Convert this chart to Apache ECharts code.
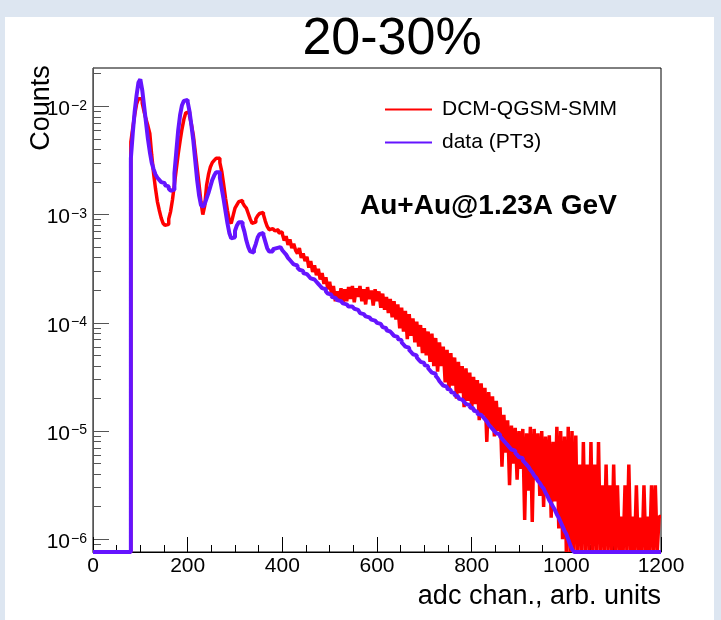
<!DOCTYPE html>
<html>
<head>
<meta charset="utf-8">
<script src="https://cdn.jsdelivr.net/npm/echarts@6/dist/echarts.min.js"></script>
<style>html,body{margin:0;padding:0;background:#fff}#c{width:721px;height:620px}</style>
</head>
<body>
<div id="c"></div>
<script>
// ---- data ----
const BIN_WIDTH = 4;                       // adc channels per histogram bin
const N_BINS = 300;
const binStarts = Array.from({length: N_BINS}, (_, i) => i * BIN_WIDTH);  // bin left edges 0..1196
const X_END = 1200;
const seriesNames = ['DCM-QGSM-SMM', 'data (PT3)'];
// log10(counts) per bin (10 bins = 40 channels per row), null = empty bin
const dcmLog10Counts = [
  /*   0 */ null,null,null,null,null,null,null,null,null,null,
  /*  40 */ null,null,null,null,null,null,null,null,null,null,
  /*  80 */ -2.33,-2.20,-2.08,-1.98,-1.93,-1.93,-1.97,-2.05,-2.12,-2.18,
  /* 120 */ -2.25,-2.45,-2.62,-2.76,-2.88,-2.96,-3.03,-3.08,-3.10,-3.09,
  /* 160 */ -3.04,-2.97,-2.86,-2.72,-2.58,-2.44,-2.32,-2.21,-2.12,-2.06,
  /* 200 */ -2.05,-2.09,-2.17,-2.27,-2.42,-2.57,-2.72,-2.88,-3.00,-2.92,
  /* 240 */ -2.73,-2.63,-2.56,-2.52,-2.50,-2.48,-2.48,-2.52,-2.60,-2.72,
  /* 280 */ -2.85,-2.96,-3.06,-3.08,-3.01,-2.94,-2.91,-2.88,-2.87,-2.89,
  /* 320 */ -2.92,-2.94,-2.99,-3.04,-3.08,-3.07,-3.04,-3.01,-2.99,-2.98,
  /* 360 */ -3.00,-3.06,-3.11,-3.14,-3.13,-3.12,-3.15,-3.14,-3.17,-3.16,
  /* 400 */ -3.18,-3.24,-3.20,-3.28,-3.23,-3.31,-3.27,-3.33,-3.36,-3.31,
  /* 440 */ -3.40,-3.36,-3.43,-3.39,-3.49,-3.43,-3.53,-3.47,-3.56,-3.50,
  /* 480 */ -3.60,-3.54,-3.64,-3.58,-3.69,-3.62,-3.74,-3.66,-3.80,-3.71,
  /* 520 */ -3.78,-3.68,-3.82,-3.69,-3.80,-3.67,-3.78,-3.66,-3.81,-3.68,
  /* 560 */ -3.76,-3.66,-3.80,-3.69,-3.83,-3.67,-3.78,-3.70,-3.84,-3.69,
  /* 600 */ -3.80,-3.71,-3.86,-3.73,-3.88,-3.76,-3.91,-3.78,-3.95,-3.80,
  /* 640 */ -3.97,-3.83,-4.05,-3.86,-4.08,-3.89,-4.15,-3.92,-4.12,-3.96,
  /* 680 */ -4.18,-3.99,-4.22,-4.02,-4.28,-4.05,-4.30,-4.08,-4.36,-4.10,
  /* 720 */ -4.40,-4.14,-4.45,-4.18,-4.40,-4.22,-4.55,-4.25,-4.62,-4.28,
  /* 760 */ -4.58,-4.32,-4.70,-4.36,-4.65,-4.40,-4.78,-4.42,-4.72,-4.46,
  /* 800 */ -4.80,-4.50,-4.75,-4.53,-4.90,-4.56,-4.85,-4.60,-5.10,-4.64,
  /* 840 */ -4.95,-4.68,-5.05,-4.72,-5.00,-4.78,-5.33,-4.85,-5.20,-4.90,
  /* 880 */ -5.50,-4.95,-5.30,-4.97,-5.45,-5.00,-5.35,-4.98,-5.82,-5.02,
  /* 920 */ -5.55,-4.96,-5.84,-4.98,-5.45,-5.02,-5.60,-5.00,-5.70,-5.05,
  /* 960 */ -5.60,-5.04,-5.80,-5.10,-5.65,-4.96,-5.90,-5.00,-6.00,-5.05,
  /*1000 */ null,-4.96,null,-5.00,null,-5.04,null,-5.31,null,-5.10,
  /*1040 */ null,-5.31,null,-5.10,null,-5.31,null,-5.10,null,-5.50,
  /*1080 */ null,-5.31,null,-5.50,null,-5.31,null,-5.50,null,-5.79,
  /*1120 */ null,-5.50,null,-5.31,null,-5.79,null,-5.50,null,-5.80,
  /*1160 */ null,-5.50,null,-5.79,null,-5.50,null,-5.50,null,-5.79
];
const dataLog10Counts = [
  /*   0 */ null,null,null,null,null,null,null,null,null,null,
  /*  40 */ null,null,null,null,null,null,null,null,null,null,
  /*  80 */ -2.48,-2.25,-2.05,-1.90,-1.78,-1.75,-1.85,-2.00,-2.15,-2.30,
  /* 120 */ -2.42,-2.52,-2.58,-2.63,-2.66,-2.68,-2.70,-2.71,-2.73,-2.74,
  /* 160 */ -2.76,-2.78,-2.77,-2.62,-2.42,-2.22,-2.08,-1.99,-1.95,-1.94,
  /* 200 */ -1.96,-2.05,-2.18,-2.32,-2.50,-2.68,-2.82,-2.91,-2.93,-2.90,
  /* 240 */ -2.85,-2.80,-2.74,-2.68,-2.64,-2.61,-2.61,-2.66,-2.76,-2.86,
  /* 280 */ -2.97,-3.08,-3.17,-3.22,-3.21,-3.15,-3.10,-3.07,-3.07,-3.10,
  /* 320 */ -3.16,-3.24,-3.30,-3.34,-3.35,-3.32,-3.27,-3.21,-3.18,-3.17,
  /* 360 */ -3.19,-3.25,-3.31,-3.34,-3.34,-3.32,-3.31,-3.30,-3.30,-3.31,
  /* 400 */ -3.33,-3.35,-3.37,-3.40,-3.42,-3.44,-3.46,-3.47,-3.49,-3.51,
  /* 440 */ -3.52,-3.54,-3.55,-3.56,-3.57,-3.59,-3.60,-3.61,-3.62,-3.64,
  /* 480 */ -3.66,-3.68,-3.69,-3.71,-3.73,-3.74,-3.76,-3.77,-3.78,-3.79,
  /* 520 */ -3.80,-3.81,-3.82,-3.83,-3.84,-3.85,-3.85,-3.86,-3.87,-3.88,
  /* 560 */ -3.89,-3.91,-3.92,-3.93,-3.94,-3.95,-3.96,-3.97,-3.98,-3.99,
  /* 600 */ -4.00,-4.01,-4.02,-4.04,-4.05,-4.07,-4.08,-4.09,-4.10,-4.12,
  /* 640 */ -4.13,-4.15,-4.16,-4.18,-4.20,-4.22,-4.23,-4.25,-4.27,-4.29,
  /* 680 */ -4.30,-4.32,-4.34,-4.36,-4.37,-4.39,-4.40,-4.42,-4.44,-4.46,
  /* 720 */ -4.47,-4.49,-4.51,-4.54,-4.56,-4.58,-4.59,-4.61,-4.62,-4.64,
  /* 760 */ -4.65,-4.67,-4.68,-4.70,-4.71,-4.72,-4.73,-4.75,-4.76,-4.78,
  /* 800 */ -4.79,-4.81,-4.82,-4.84,-4.85,-4.86,-4.87,-4.89,-4.91,-4.94,
  /* 840 */ -4.96,-4.98,-5.00,-5.02,-5.03,-5.05,-5.07,-5.09,-5.11,-5.13,
  /* 880 */ -5.15,-5.17,-5.18,-5.20,-5.22,-5.24,-5.25,-5.27,-5.29,-5.31,
  /* 920 */ -5.33,-5.36,-5.38,-5.41,-5.43,-5.46,-5.48,-5.51,-5.53,-5.57,
  /* 960 */ -5.60,-5.64,-5.67,-5.70,-5.73,-5.77,-5.80,-5.84,-5.88,-5.92,
  /*1000 */ -5.95,-6.00,-6.05,-6.09,null,null,null,null,null,null,
  /*1040 */ null,null,null,null,null,null,null,null,null,null,
  /*1080 */ null,null,null,null,null,null,null,null,null,null,
  /*1120 */ null,null,null,null,null,null,null,null,null,null,
  /*1160 */ null,null,null,null,null,null,null,null,null,null
];
const yDecadeExponents = [-6, -5, -4, -3, -2];
const xTickLabels = [0, 200, 400, 600, 800, 1000, 1200];

// ---- axis range (log10 space) ----
const Y_MIN = -6.117, Y_MAX = -1.646;
const minorLogTicks = [];
for (let e = -7; e <= -2; e++) for (let k = 2; k <= 9; k++) {
  const v = e + Math.log10(k);
  if (v > Y_MIN && v < Y_MAX) minorLogTicks.push(v);
}

function histData(vals) {
  const d = binStarts.map((x, i) => [x, vals[i] == null ? Y_MIN : vals[i]]);
  const last = vals[vals.length - 1];
  d.push([X_END, last == null ? Y_MIN : last]);
  return d;
}

const FONT = 'Liberation Sans, Arial, Helvetica, sans-serif';
const chart = echarts.init(document.getElementById('c'), null, {renderer: 'canvas'});
chart.setOption({
  animation: false,
  textStyle: {fontFamily: FONT},
  graphic: [
    {type: 'rect', z: -100, silent: true, shape: {x: 0, y: 0, width: 721, height: 620}, style: {fill: '#dde6f1'}},
    {type: 'rect', z: -99, silent: true, shape: {x: 5, y: 17, width: 709, height: 603}, style: {fill: '#ffffff'}},
    {type: 'text', x: 392, y: 40, style: {text: '20-30%', font: '52px ' + FONT, fill: '#000', textAlign: 'center', textVerticalAlign: 'middle'}},
    {type: 'text', x: 42, y: 108, rotation: Math.PI / 2, style: {text: 'Counts', font: '27px ' + FONT, fill: '#000', textAlign: 'center', textVerticalAlign: 'middle'}},
    {type: 'text', x: 661, y: 597, style: {text: 'adc chan., arb. units', font: '27px ' + FONT, fill: '#000', textAlign: 'right', textVerticalAlign: 'middle'}},
    {type: 'text', x: 360, y: 206, style: {text: 'Au+Au@1.23A GeV', font: 'bold 28px ' + FONT, fill: '#000', textAlign: 'left', textVerticalAlign: 'middle'}}
  ],
  legend: {
    data: seriesNames,
    orient: 'vertical',
    left: 385, top: 99,
    icon: 'rect',
    itemWidth: 47, itemHeight: 2,
    itemGap: 12,
    padding: 0,
    textStyle: {fontSize: 21, color: '#000', fontFamily: FONT, padding: [0, 0, 0, 5]}
  },
  grid: {left: 93, top: 68, width: 568, height: 484, show: true, borderColor: '#000', borderWidth: 1, backgroundColor: '#fff'},
  xAxis: {
    type: 'value', min: 0, max: 1200, interval: 200,
    axisLine: {lineStyle: {color: '#000', width: 1}},
    axisTick: {inside: true, length: 15, lineStyle: {color: '#000'}},
    minorTick: {show: true, splitNumber: 4, length: 7, lineStyle: {color: '#000'}},
    axisLabel: {fontSize: 21, color: '#000', margin: 4, fontFamily: FONT,
      formatter: v => xTickLabels.includes(v) ? String(v) : ''},
    splitLine: {show: false}, minorSplitLine: {show: false}
  },
  yAxis: [
    {
      type: 'value', min: Y_MIN, max: Y_MAX,
      axisLine: {show: true, lineStyle: {color: '#555'}},
      axisTick: {show: true, inside: true, length: 16, customValues: yDecadeExponents, lineStyle: {color: '#555'}},
      axisLabel: {
        customValues: yDecadeExponents, margin: 6, padding: [6, 0, 0, 0],
        formatter: v => '{b|10}{s|\u2212' + Math.round(-v) + '}',
        rich: {
          b: {fontSize: 21, color: '#000', fontFamily: FONT},
          s: {fontSize: 14, color: '#000', fontFamily: FONT, verticalAlign: 'top', padding: [0, 0, 0, 1]}
        }
      },
      splitLine: {show: false}
    },
    {
      type: 'value', min: Y_MIN, max: Y_MAX, position: 'left',
      axisLine: {show: false},
      axisTick: {show: true, inside: true, length: 8, customValues: minorLogTicks, lineStyle: {color: '#555'}},
      axisLabel: {show: false},
      splitLine: {show: false}
    }
  ],
  series: [
    {name: seriesNames[0], type: 'line', step: 'end', showSymbol: false, color: '#ff0000',
     lineStyle: {color: '#ff0000', width: 3.5}, data: histData(dcmLog10Counts)},
    {name: seriesNames[1], type: 'line', step: 'end', showSymbol: false, color: '#6514ff',
     lineStyle: {color: '#6514ff', width: 4}, data: histData(dataLog10Counts)}
  ]
});
</script>
</body>
</html>
